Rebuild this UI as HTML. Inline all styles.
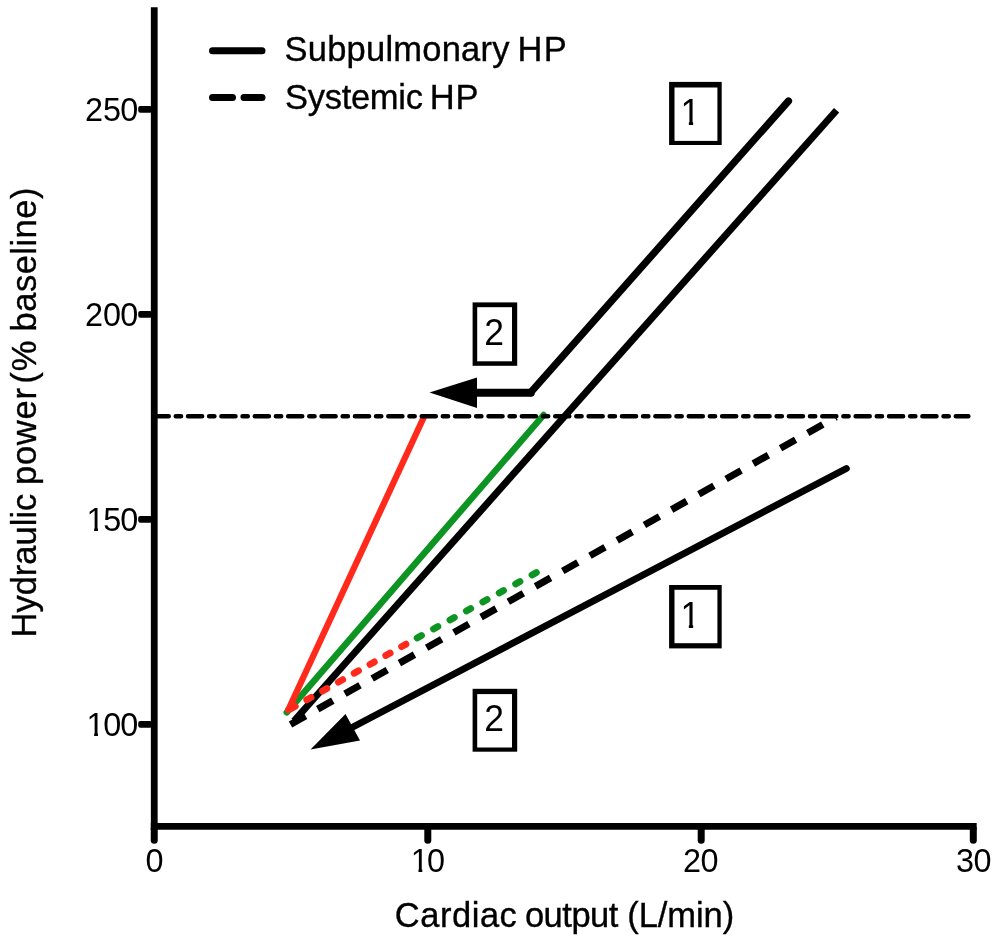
<!DOCTYPE html>
<html lang="en">
<head>
<meta charset="utf-8">
<title>Hydraulic power vs cardiac output</title>
<style>
html,body{margin:0;padding:0;background:#fff;}
body{width:1000px;height:944px;overflow:hidden;}
svg{display:block;}
text{font-family:"Liberation Sans",Arial,Helvetica,sans-serif;fill:#000;}
.lbl text{stroke:#000;stroke-width:0.35px;}
</style>
</head>
<body>
<svg width="1000" height="944" viewBox="0 0 1000 944">
<rect x="0" y="0" width="1000" height="944" fill="#ffffff"/>

<!-- axes -->
<g stroke="#000" stroke-width="6.8" fill="none" stroke-linecap="butt">
  <line x1="154.25" y1="7.3" x2="154.25" y2="830"/>
  <line x1="150.8" y1="826.4" x2="976.7" y2="826.4"/>
</g>
<g stroke="#000" stroke-width="7" fill="none" stroke-linecap="round">
  <!-- x ticks -->
  <line x1="154.25" y1="829" x2="154.25" y2="840.3"/>
  <line x1="427.8" y1="829" x2="427.8" y2="840.3"/>
  <line x1="701.2" y1="829" x2="701.2" y2="840.3"/>
  <line x1="973.3" y1="829" x2="973.3" y2="840.3"/>
  <!-- y ticks -->
  <rect x="138.2" y="105.90" width="14" height="6.8" rx="2.2" fill="#000" stroke="none"/>
  <rect x="138.2" y="310.90" width="14" height="6.8" rx="2.2" fill="#000" stroke="none"/>
  <rect x="138.2" y="515.90" width="14" height="6.8" rx="2.2" fill="#000" stroke="none"/>
  <rect x="138.2" y="720.90" width="14" height="6.8" rx="2.2" fill="#000" stroke="none"/>
</g>

<!-- tick labels -->
<g font-size="32.4">
  <text x="84.9 103 120.3" y="120.6">250</text>
  <text x="84.9 103 120.3" y="325.6">200</text>
  <text x="86.5 103.2 120.3" y="530.6">150</text>
  <text x="86.5 103.2 120.3" y="735.6">100</text>
</g>
<g font-size="32.4">
  <text x="145.4" y="872.4">0</text>
  <text x="410.8 427" y="872.4">10</text>
  <text x="682.9 700.4" y="872.4">20</text>
  <text x="956.1 973.6" y="872.4">30</text>
</g>

<!-- axis titles -->
<g font-size="34.5" class="lbl">
  <text y="926.9"><tspan x="394.8" style="letter-spacing:0.53px">Cardiac</tspan> <tspan x="524.9" style="letter-spacing:-0.48px">output</tspan> <tspan x="627.3" style="letter-spacing:-0.07px">(L/min)</tspan></text>
</g>
<g font-size="34.5" class="lbl" transform="translate(35.9,637.5) rotate(-90)">
  <text y="0"><tspan x="0">Hydraulic</tspan> <tspan x="152.5" style="letter-spacing:0.75px">power</tspan> <tspan x="253.8 266.35">(%</tspan> <tspan x="306.1" style="letter-spacing:0.475px">baseline)</tspan></text>
</g>

<!-- legend -->
<line x1="212.5" y1="50.7" x2="262" y2="50.7" stroke="#000" stroke-width="7" stroke-linecap="round"/>
<line x1="212.5" y1="97.5" x2="262" y2="97.5" stroke="#000" stroke-width="7" stroke-linecap="round" stroke-dasharray="20 11.5"/>
<g font-size="34.5" class="lbl">
  <text y="60.6"><tspan x="284.5" style="letter-spacing:0.23px">Subpulmonary</tspan> <tspan x="517.4" style="letter-spacing:1.4px">HP</tspan></text>
  <text y="108.6"><tspan x="285" style="letter-spacing:-0.29px">Systemic</tspan> <tspan x="429.8" style="letter-spacing:0.8px">HP</tspan></text>
</g>

<!-- black solid line (middle, long) -->
<line x1="294" y1="721" x2="836.6" y2="110.2" stroke="#000" stroke-width="7" stroke-linecap="butt"/>

<!-- black dashed -->
<line x1="290.5" y1="724.5" x2="836" y2="417" stroke="#000" stroke-width="7" stroke-dasharray="17.3 13.95"/>

<!-- green solid -->
<line x1="286.8" y1="712.3" x2="543.6" y2="415" stroke="#0d9422" stroke-width="6.5" stroke-linecap="round"/>
<!-- red solid -->
<line x1="288.2" y1="710" x2="423.9" y2="417" stroke="#ff2a1c" stroke-width="6.3" stroke-linecap="butt"/>
<circle cx="288.2" cy="710" r="3.15" fill="#ff2a1c"/>

<!-- dotted red then green -->
<line x1="290.9" y1="708.7" x2="407" y2="643.6" stroke="#ff2a1c" stroke-width="6.8" stroke-linecap="round" stroke-dasharray="5 13.13"/>
<line x1="417.1" y1="637.9" x2="537.2" y2="572.1" stroke="#0d9422" stroke-width="6.8" stroke-linecap="round" stroke-dasharray="5 13.72"/>

<!-- threshold dash-dot line -->
<line x1="154.7" y1="416.2" x2="968.3" y2="416.2" stroke="#000" stroke-width="4.6" stroke-linecap="round" stroke-dasharray="14 7.1 5.18 7.1"/>

<!-- upper black line with horizontal arrow -->
<line x1="470" y1="392.8" x2="530.8" y2="392.8" stroke="#000" stroke-width="8" stroke-linecap="round"/>
<line x1="530.5" y1="392.6" x2="788.5" y2="101" stroke="#000" stroke-width="7.2" stroke-linecap="round"/>
<polygon points="429.5,392.5 477,377.5 477,408" fill="#000"/>

<!-- lower black line with arrow -->
<line x1="846.4" y1="468.5" x2="351" y2="727.9" stroke="#000" stroke-width="6.8" stroke-linecap="round"/>
<polygon points="310.5,749.5 345.5,714 360,740.5" fill="#000"/>

<!-- numbered boxes -->
<g>
  <rect x="669.1" y="81.9" width="52.6" height="63.1" fill="#000"/>
  <rect x="674.5" y="87.5" width="42.9" height="53.4" fill="#fff"/>
  <rect x="472.6" y="302.4" width="44.6" height="63.4" fill="#000"/>
  <rect x="477.2" y="307.2" width="34.8" height="54.1" fill="#fff"/>
  <rect x="669.1" y="585" width="52.6" height="63.4" fill="#000"/>
  <rect x="674.5" y="589.8" width="42.9" height="53.4" fill="#fff"/>
  <rect x="472.6" y="688.8" width="44.6" height="62.9" fill="#000"/>
  <rect x="477.2" y="694.1" width="34.8" height="53.4" fill="#fff"/>
</g>
<g font-size="35.5">
  <text transform="translate(680.5,124.7) scale(1,1.06)">1</text>
  <text transform="translate(484.2,345.1) scale(1,1.055)">2</text>
  <text transform="translate(680.5,627.8) scale(1,1.06)">1</text>
  <text transform="translate(484.2,731.1) scale(1,1.055)">2</text>
</g>
<!-- trim the foot serif of the digit 1 so it reads like the sans "1" in the reference -->
<g fill="#fff">
  <rect x="681.5" y="121" width="7.35" height="5.5"/><rect x="693.15" y="121" width="7" height="5.5"/>
  <rect x="681.5" y="624" width="7.35" height="5.5"/><rect x="693.15" y="624" width="7" height="5.5"/>
  <rect x="411.5" y="868" width="6.95" height="5.5"/><rect x="422.3" y="868" width="6.2" height="5.5"/>
  <rect x="87.5" y="732" width="6.62" height="5.5"/><rect x="98" y="732" width="6" height="5.5"/>
  <rect x="87.5" y="527" width="6.62" height="5.5"/><rect x="98" y="527" width="6" height="5.5"/>
</g>
</svg>
</body>
</html>
